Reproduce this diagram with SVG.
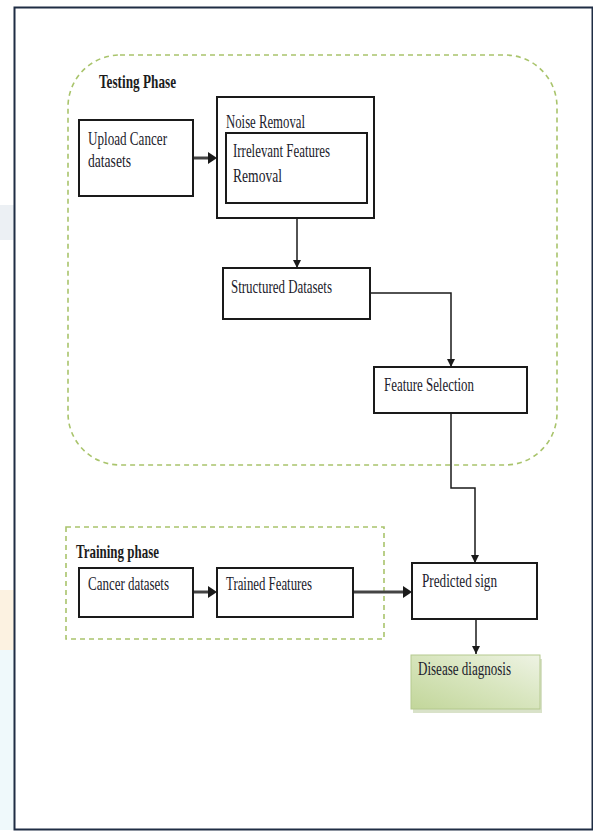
<svg xmlns="http://www.w3.org/2000/svg" width="593" height="832" viewBox="0 0 593 832">
<defs>
<style>
.box{fill:#fff;stroke:#1a1a1a;stroke-width:2}
.t{font-family:"Liberation Serif","Times New Roman",serif;font-size:19px;fill:#1c1c2c}
.tb{font-family:"Liberation Serif","Times New Roman",serif;font-size:19px;font-weight:bold;fill:#1c1c1c}
.thin{fill:none;stroke:#1a1a1a;stroke-width:1.5}
.thick{fill:none;stroke:#444;stroke-width:3}
.phase{fill:none;stroke:#a9c46c;stroke-width:1.6;stroke-dasharray:5 4}
</style>
<marker id="ah" viewBox="0 0 10 10" refX="10" refY="5" markerWidth="8" markerHeight="8" markerUnits="userSpaceOnUse" orient="auto">
<path d="M0,0 L10,5 L0,10 z" fill="#1a1a1a"/>
</marker>
<linearGradient id="green" x1="0" y1="1" x2="1" y2="0">
<stop offset="0" stop-color="#c2d69a"/>
<stop offset="0.55" stop-color="#d9e6c0"/>
<stop offset="1" stop-color="#eef3e4"/>
</linearGradient>
</defs>
<rect x="0" y="0" width="593" height="832" fill="#fff"/>
<!-- faint watermark traces at left edge -->
<rect x="0" y="205" width="14" height="35" fill="#c9d3e0" opacity="0.35"/>
<rect x="0" y="590" width="14" height="60" fill="#f6d9a8" opacity="0.35"/>
<rect x="0" y="650" width="14" height="180" fill="#d8f0f6" opacity="0.4"/>
<!-- outer frame -->
<rect x="14.5" y="7.5" width="578" height="822" fill="none" stroke="#1f2d44" stroke-width="2"/>
<!-- phase containers -->
<g id="testing-phase">
<rect class="phase" x="68" y="55" width="489" height="410" rx="52" ry="52"/>
<text class="tb" x="99" y="88" textLength="77" lengthAdjust="spacingAndGlyphs">Testing Phase</text>
</g>
<g id="training-phase">
<rect class="phase" x="66" y="527" width="318" height="112"/>
<text class="tb" x="76" y="558" textLength="83" lengthAdjust="spacingAndGlyphs">Training phase</text>
</g>
<!-- connectors -->
<g id="connectors">
<line class="thick" x1="194" y1="158" x2="210" y2="158"/>
<path d="M208,152 L217,158 L208,164 z" fill="#1a1a1a"/>
<path class="thin" d="M297,218 V268" marker-end="url(#ah)"/>
<path class="thin" d="M370,293 H451 V367" marker-end="url(#ah)"/>
<path class="thin" d="M451,413 V488 H475 V563" marker-end="url(#ah)"/>
<line class="thick" x1="193" y1="592" x2="210" y2="592"/>
<path d="M208,586 L217,592 L208,598 z" fill="#1a1a1a"/>
<line class="thick" x1="353" y1="592" x2="405" y2="592"/>
<path d="M403,586 L412,592 L403,598 z" fill="#1a1a1a"/>
<path class="thin" d="M476,619 V654" marker-end="url(#ah)"/>
</g>
<!-- nodes -->
<g id="upload">
<rect class="box" x="79" y="120" width="114" height="76"/>
<text class="t" x="88" y="145" textLength="79" lengthAdjust="spacingAndGlyphs">Upload Cancer</text>
<text class="t" x="88" y="167" textLength="43" lengthAdjust="spacingAndGlyphs">datasets</text>
</g>
<g id="noise-removal">
<rect class="box" x="217" y="97" width="157" height="121"/>
<text class="t" x="226" y="128" textLength="79" lengthAdjust="spacingAndGlyphs">Noise Removal</text>
</g>
<g id="irrelevant">
<rect class="box" x="226" y="133" width="141" height="70"/>
<text class="t" x="233" y="157" textLength="97" lengthAdjust="spacingAndGlyphs">Irrelevant Features</text>
<text class="t" x="233" y="182" textLength="49" lengthAdjust="spacingAndGlyphs">Removal</text>
</g>
<g id="structured">
<rect class="box" x="223" y="268" width="147" height="51"/>
<text class="t" x="231" y="293" textLength="101" lengthAdjust="spacingAndGlyphs">Structured Datasets</text>
</g>
<g id="feature-selection">
<rect class="box" x="374" y="367" width="153" height="46"/>
<text class="t" x="384" y="391" textLength="90" lengthAdjust="spacingAndGlyphs">Feature Selection</text>
</g>
<g id="cancer-datasets">
<rect class="box" x="79" y="568" width="114" height="49"/>
<text class="t" x="88" y="590" textLength="81" lengthAdjust="spacingAndGlyphs">Cancer datasets</text>
</g>
<g id="trained-features">
<rect class="box" x="217" y="568" width="136" height="49"/>
<text class="t" x="226" y="590" textLength="86" lengthAdjust="spacingAndGlyphs">Trained Features</text>
</g>
<g id="predicted">
<rect class="box" x="412" y="563" width="125" height="56"/>
<text class="t" x="422" y="587" textLength="75" lengthAdjust="spacingAndGlyphs">Predicted sign</text>
</g>
<g id="disease">
<rect x="413" y="659" width="129" height="54" fill="#c9d5b2" opacity="0.7"/>
<rect x="411" y="655" width="129" height="54" fill="url(#green)" stroke="#b5c98f" stroke-width="1"/>
<text class="t" x="418" y="675" textLength="93" lengthAdjust="spacingAndGlyphs">Disease diagnosis</text>
</g>
</svg>
